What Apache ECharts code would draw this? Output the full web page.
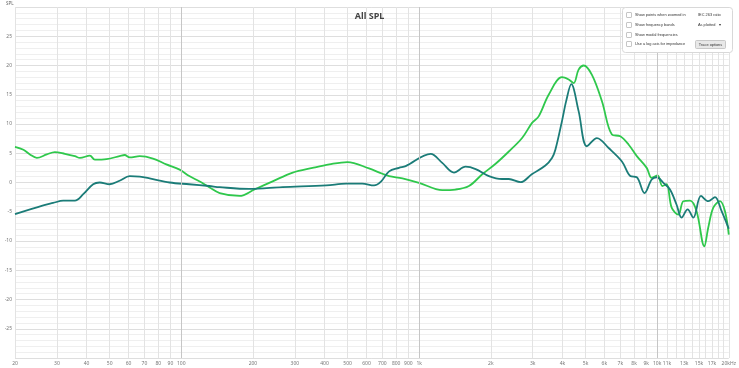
<!DOCTYPE html>
<html>
<head>
<meta charset="utf-8">
<script src="https://cdn.jsdelivr.net/npm/echarts@6/dist/echarts.min.js"></script>
<style>
html,body{margin:0;padding:0;background:#fff;}
#chart{width:739px;height:368px;}
</style>
</head>
<body>
<div id="chart"></div>
<script>
// ---- data ----
const tealFreq = [20,26.3,28.9,31.9,35.7,38.7,42.6,45.4,50,55,60.7,66.9,73.6,89.3,108,131,145,193,266,407,493,576,646,692,747,822,877,1117,1246,1400,1566,1726,1962,2226,2380,2666,2972,3390,3614,3734,3981,4150,4356,4676,5070,5586,6254,7112,7710,8214,8852,9487,9954,10618,11325,12070,12668,13428,14192,15280,16400,17500,18660,20000];
const tealSpl  = [-5.4,-3.9,-3.5,-3.1,-3.1,-2.0,-0.3,0,-0.3,0.3,1.1,1.0,0.7,0,-0.3,-0.6,-0.8,-1.1,-0.8,-0.5,-0.2,-0.2,-0.5,0.2,1.9,2.5,2.8,4.9,3.4,1.7,2.7,2.3,1.1,0.6,0.6,0.05,1.4,2.9,4.2,5.6,10.5,14.0,16.8,12.2,6.2,7.6,5.9,3.6,1.1,0.9,-1.8,0.5,0.9,-0.05,-1.2,-3.8,-6.0,-4.6,-6.0,-2.3,-3.2,-2.5,-4.9,-7.9];

const greenFreq = [20,21.7,23.1,24.7,27.2,29.4,32.4,35.7,37.5,41.3,43.3,48.5,55,57.8,60.7,66.9,76,86.5,98.4,108,119,131,145,175.6,203,242,294,356,419,499,615,700,747,850,998,1250,1422,1618,1840,2094,2380,2706,2980,3177,3500,3981,4248,4457,4676,4910,5320,5860,6454,6998,7580,8214,9038,9487,10050,10520,10960,11508,12280,12888,13746,14646,15780,16400,17220,18368,19278,20000];
const greenSpl  = [6.1,5.6,4.8,4.2,4.8,5.2,4.9,4.5,4.2,4.6,3.9,4.0,4.5,4.7,4.3,4.5,4.1,3.1,2.2,1.1,0.2,-0.8,-1.8,-2.3,-1.2,0.2,1.7,2.5,3.1,3.5,2.4,1.5,1.1,0.7,-0.05,-1.3,-1.2,-0.6,1.4,3.2,5.3,7.6,10.2,11.3,15.0,18.0,17.6,17.0,19.3,20.0,18.4,13.9,8.2,7.9,6.5,4.5,2.5,0.8,1.2,-0.6,-0.3,-4.3,-5.5,-3.2,-3.1,-4.9,-10.9,-7.7,-4.3,-3.2,-4.9,-8.9];

const xLabelVals = [20,30,40,50,60,70,80,90,100,200,300,400,500,600,700,800,900,1000,2000,3000,4000,5000,6000,7000,8000,9000,10000,11000,13000,15000,17000,20000];
const xGridVals = [20,30,40,50,60,70,80,90,100,200,300,400,500,600,700,800,900,1000,2000,3000,4000,5000,6000,7000,8000,9000,10000,11000,12000,13000,14000,15000,16000,17000,18000,19000,20000];
const decadeVals = [100,1000,10000];
const legendRows = ['Show points when zoomed in','Show frequency bands','Show modal frequencies','Use a log axis for impedance'];

const pair = (f, s) => f.map((v, i) => [v, s[i]]);
const FONT = 'Noto Sans';
const LFONT = '3.9px "Liberation Sans"';

const rowY = [15, 25, 35, 44];
const graphics = [
  {type:'text', left: 6, top: 1, style:{text:'SPL', fill:'#666', font:'4.5px ' + FONT}},
  {type:'rect', shape:{x:622.5,y:7.5,width:110,height:45,r:3}, style:{fill:'#fff', stroke:'#d8d8d8', lineWidth:1}, z:100}
];
legendRows.forEach((t, i) => {
  graphics.push({type:'rect', shape:{x:626.5,y:rowY[i]-2.5,width:5,height:5,r:0.5}, style:{fill:'#fff', stroke:'#b8b8b8', lineWidth:0.8}, z:101});
  graphics.push({type:'text', x:635, y:rowY[i], style:{text:t, font:LFONT, fill:'#333', verticalAlign:'middle'}, z:101});
});
graphics.push({type:'text', x:698, y:15, style:{text:'IEC 263 ratio', font:LFONT, fill:'#333', verticalAlign:'middle'}, z:101});
graphics.push({type:'text', x:698, y:25, style:{text:'As plotted   \u25BE', font:LFONT, fill:'#333', verticalAlign:'middle'}, z:101});
graphics.push({type:'rect', shape:{x:695.5,y:40.5,width:30,height:8,r:1}, style:{fill:'#e8e8e8', stroke:'#bdbdbd', lineWidth:0.8}, z:101});
graphics.push({type:'text', x:710.5, y:44.5, style:{text:'Trace options', font:LFONT, fill:'#333', verticalAlign:'middle', align:'center'}, z:102});

const chart = echarts.init(document.getElementById('chart'), null, {renderer:'canvas'});
chart.setOption({
  animation: false,
  backgroundColor: '#fff',
  title: {text:'All SPL', left:'center', top:7, textStyle:{fontSize:9, fontWeight:'bold', color:'#444', fontFamily:FONT}},
  grid: {left:15, right:8, top:7, bottom:10, containLabel:false},
  xAxis: {
    type:'log', logBase:10, min:20, max:20000,
    axisLine:{show:false},
    axisTick:{show:false, customValues:xGridVals},
    axisLabel:{customValues:xLabelVals, fontSize:5, color:'#777', margin:3, fontFamily:FONT,
      formatter: v => v === 20000 ? '20kHz' : (v >= 1000 ? (v/1000) + 'k' : String(v))},
    splitLine:{show:true, lineStyle:{color:'#e3e3e3', width:1}},
    minorSplitLine:{show:false}
  },
  yAxis: {
    type:'value', min:-30, max:30, interval:5,
    axisLine:{show:false}, axisTick:{show:false},
    axisLabel:{fontSize:5, color:'#777', margin:3, fontFamily:FONT, formatter: v => Math.abs(v) === 30 ? '' : String(v)},
    splitLine:{show:true, lineStyle:{color:'#dedede', width:1}},
    minorTick:{show:false, splitNumber:5},
    minorSplitLine:{show:true, lineStyle:{color:'#efefef', width:1}}
  },
  graphic: graphics,
  series: [
    {
      name:'green', type:'line', data: pair(greenFreq, greenSpl), smooth:0.35, showSymbol:false, symbol:'none',
      lineStyle:{color:'#2fc84c', width:1.8}, z:3,
      markLine:{silent:true, symbol:'none', label:{show:false}, lineStyle:{color:'#c6c6c6', type:'solid', width:1},
        data: decadeVals.map(v => ({xAxis:v}))}
    },
    {
      name:'teal', type:'line', data: pair(tealFreq, tealSpl), smooth:0.35, showSymbol:false, symbol:'none',
      lineStyle:{color:'#1b7c78', width:1.8}, z:4
    }
  ]
});
</script>
</body>
</html>
